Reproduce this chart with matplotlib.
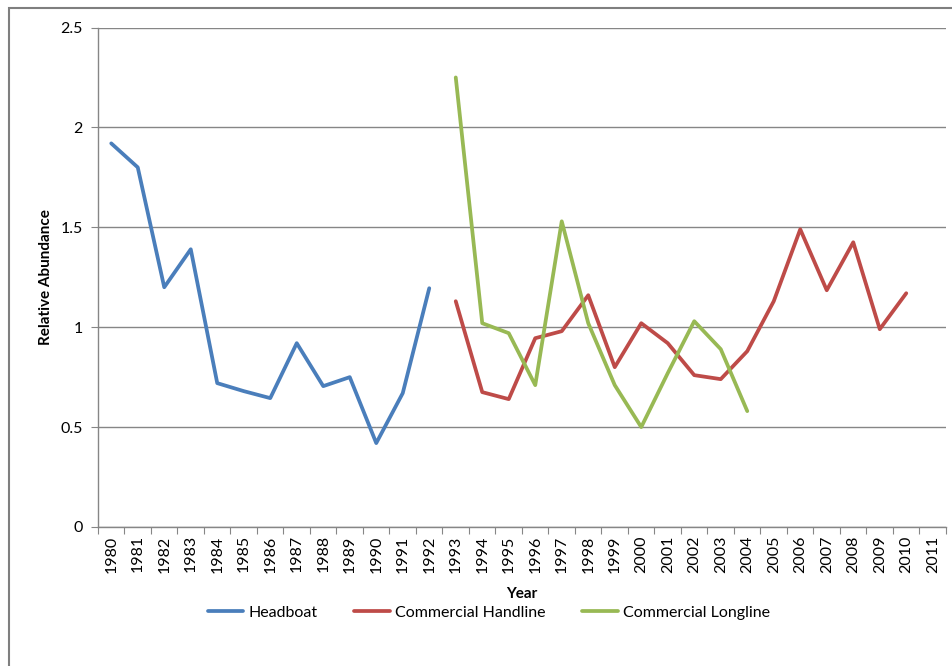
import numpy as np
import matplotlib
matplotlib.use('Agg')
import matplotlib.pyplot as plt
from matplotlib.patches import Rectangle

plt.rcParams['font.family'] = ['Lato', 'DejaVu Sans']

years = list(range(1980, 2012))

headboat = [1.92, 1.80, 1.20, 1.39, 0.72, 0.68, 0.645, 0.92, 0.705, 0.75, 0.42, 0.67, 1.195]
headboat_years = list(range(1980, 1993))

handline = [1.13, 0.675, 0.64, 0.945, 0.98, 1.16, 0.80, 1.02, 0.92, 0.76, 0.74, 0.88,
            1.13, 1.49, 1.185, 1.425, 0.99, 1.17]
handline_years = list(range(1993, 2011))

longline = [2.25, 1.02, 0.97, 0.71, 1.53, 1.02, 0.71, 0.50, 0.77, 1.03, 0.89, 0.58]
longline_years = list(range(1993, 2005))

colors = {'Headboat': '#4A7EBB', 'Commercial Handline': '#BE4B48', 'Commercial Longline': '#98B954'}
grid_c = '#868686'

fig = plt.figure(figsize=(9.53, 6.66), dpi=100)
ax = fig.add_axes([98 / 953, 1 - 527 / 666, (946 - 98) / 953, (527 - 27.5) / 666])

def pos(yrs):
    return [years.index(y) for y in yrs]

for name, yrs, vals in [('Headboat', headboat_years, headboat),
                        ('Commercial Handline', handline_years, handline),
                        ('Commercial Longline', longline_years, longline)]:
    ax.plot(pos(yrs), vals, color=colors[name], lw=2.7, label=name, solid_joinstyle='round',
            solid_capstyle='round')

ax.set_xlim(-0.5, len(years) - 0.5)
ax.set_ylim(0, 2.5)
ax.set_yticks([0, 0.5, 1, 1.5, 2, 2.5])
ax.set_yticklabels(['0', '0.5', '1', '1.5', '2', '2.5'], fontsize=11.5)
ax.yaxis.grid(True, color=grid_c, lw=1)
ax.set_axisbelow(True)

# category boundaries get the tick marks, labels sit in the middle
ax.set_xticks(np.arange(-0.5, len(years), 1.0))
ax.set_xticklabels([])
ax.set_xticks(np.arange(len(years)), minor=True)
ax.set_xticklabels([str(y) for y in years], minor=True, rotation=90, fontsize=11.5)
ax.tick_params(axis='x', which='minor', length=0, pad=6)
ax.tick_params(axis='x', which='major', length=5, color=grid_c)
ax.tick_params(axis='y', length=5, color=grid_c, pad=6)

for s in ['top', 'right']:
    ax.spines[s].set_visible(False)
for s in ['left', 'bottom']:
    ax.spines[s].set_color(grid_c)
    ax.spines[s].set_linewidth(1)

ax.set_xlabel('Year', fontsize=11, fontweight='bold', labelpad=10)
ax.set_ylabel('Relative Abundance', fontsize=11, fontweight='bold', labelpad=5)

fig.legend(loc='center', bbox_to_anchor=(489 / 953, 1 - 613 / 666), ncol=3, frameon=False,
           fontsize=11.5, handlelength=2.2, columnspacing=2.3, handletextpad=0.35)

# chart area border (only the top and left edges show in the crop)
fig.add_artist(Rectangle((9 / 953, -0.01), 1.0, 1 - 8 / 666 + 0.01, transform=fig.transFigure,
                         fill=False, edgecolor='#7f7f7f', lw=1.5))

fig.savefig('out.png', dpi=100)
